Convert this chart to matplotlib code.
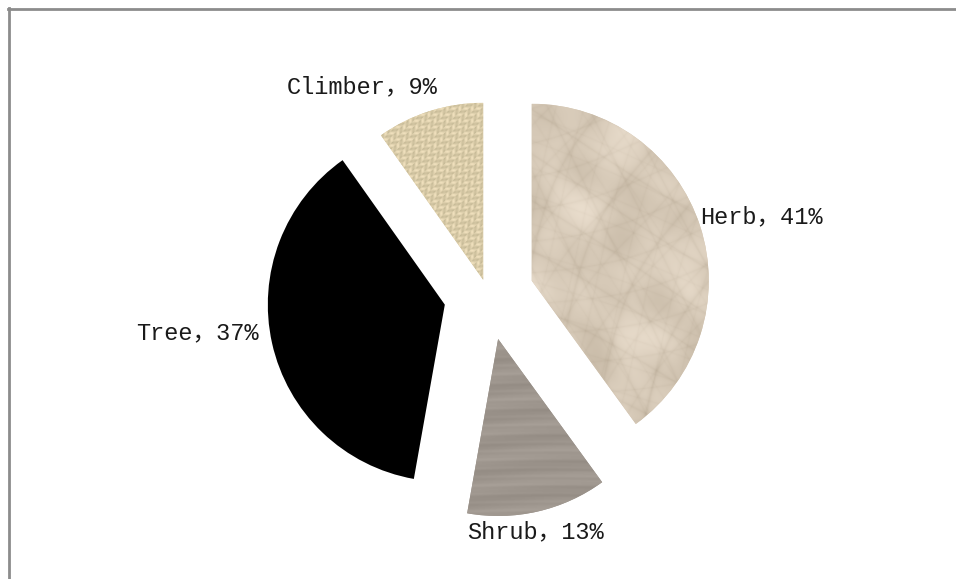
import numpy as np
import matplotlib
matplotlib.use('Agg')
import matplotlib.pyplot as plt
from matplotlib.lines import Line2D

# data (wedge sizes; labels as printed)
categories = ['Herb', 'Shrub', 'Tree', 'Climber']
shares = [40.0, 12.8, 37.4, 9.8]
label_pct = [41, 13, 37, 9]

# layout
explode = [0.26, 0.255, 0.25, 0.09]
label_px = [(761, 217), (535, 532), (197, 333), (362, 87)]
W, H = 956, 579
R_PX = 177          # pie radius in pixels
CX, CY = 488, 295   # pie centre, pixels from top-left

base_colors = ['#d6c8b4', '#9c948c', '#000000', '#ddcfa8']


def make_texture(kind, n=400):
    x, y = np.meshgrid(np.linspace(-1, 1, n), np.linspace(-1, 1, n))
    if kind == 'paper':
        # crumpled paper: facets plus thin dark creases
        dirs = [(9, 4, 0.3), (-6, 11, 1.1), (14, -7, 2.0), (4, 16, 0.7),
                (-13, -9, 1.9), (19, 6, 2.6), (-8, 21, 0.2), (23, -15, 1.4)]
        t = np.zeros_like(x)
        for i, (kx, ky, p) in enumerate(dirs):
            s = np.sin(kx * x + ky * y + p + 0.8 * np.sin(3 * x - 2 * y + i))
            t += (0.5 / (1 + 0.2 * i)) * s
            t -= (1.2 / (1 + 0.2 * i)) * np.exp(-np.abs(s) * 9)
        base, amp = np.array([214, 201, 183]), np.array([26, 27, 29])
    elif kind == 'wood':
        t = np.sin(40 * y + 1.5 * np.sin(3 * x)) + 0.6 * np.sin(130 * y + 1.3 + np.sin(4 * x))
        t += 0.3 * np.sin(260 * y + np.sin(6 * x))
        base, amp = np.array([158, 150, 142]), np.array([10, 10, 10])
    else:  # woven
        a = 2 * np.pi / 0.035
        wx = np.sin(a * x)
        wy = np.sin(a * y)
        t = np.where(np.sin(a * (x + y) / 2) > 0, wx, wy) + 0.4 * wx * wy
        base, amp = np.array([219, 205, 170]), np.array([24, 22, 22])
    t = (t - t.mean()) / (np.abs(t - t.mean()).max() + 1e-9)
    img = base[None, None, :] + t[:, :, None] * amp[None, None, :]
    return np.clip(img, 0, 255).astype(np.uint8)


fig = plt.figure(figsize=(W / 100, H / 100), dpi=100)
ax = fig.add_axes([0, 0, 1, 1])

wedges, _ = ax.pie(shares, explode=explode, startangle=90, counterclock=False,
                   colors=base_colors, wedgeprops=dict(linewidth=0))

for wedge, kind in zip(wedges, ['paper', 'wood', None, 'woven']):
    if kind is None:
        continue
    cx, cy = wedge.center
    im = ax.imshow(make_texture(kind), extent=(cx - 1, cx + 1, cy - 1, cy + 1),
                   aspect='auto', interpolation='bilinear', zorder=wedge.get_zorder() + 0.1)
    im.set_clip_path(wedge)

for cat, pct, (px, py) in zip(categories, label_pct, label_px):
    ax.text((px - CX) / R_PX, (CY - py) / R_PX, f'{cat}，{pct}%', ha='center', va='center',
            fontsize=17, color='#1a1a1a', family=['Liberation Mono', 'Noto Sans CJK SC'])

ax.set_xlim(-CX / R_PX, (W - CX) / R_PX)
ax.set_ylim(-(H - CY) / R_PX, CY / R_PX)
ax.set_aspect('auto')
ax.axis('off')

# grey frame (only top and left edges are inside the picture)
fig.add_artist(Line2D([8 / W, 1], [1 - 9 / H, 1 - 9 / H], transform=fig.transFigure,
                      color='#8c8c8c', lw=2))
fig.add_artist(Line2D([9 / W, 9 / W], [0, 1 - 8 / H], transform=fig.transFigure,
                      color='#8c8c8c', lw=2))

plt.savefig('out.png', dpi=100)
